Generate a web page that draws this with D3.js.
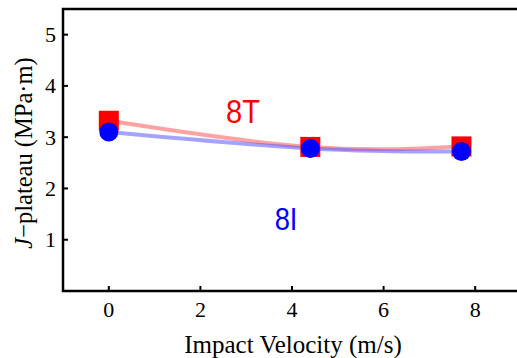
<!DOCTYPE html>
<html>
<head>
<meta charset="utf-8">
<script src="https://cdn.jsdelivr.net/npm/d3@7"></script>
<style>
  body { margin: 0; background: #fff; }
  svg { display: block; }
</style>
</head>
<body>
<script>
// data
var velocity = [0, 4.4, 7.7];
var j_8T = [3.32, 2.81, 2.82];
var j_8I = [3.10, 2.78, 2.72];
var err_8T = [0, 0.18, 0];
var err_8I = [0, 0.18, 0];
var x_ticks = [0, 2, 4, 6, 8];
var y_ticks = [1, 2, 3, 4, 5];

var width = 517, height = 358;
var pad_left = 63, pad_top = 9, pad_bottom = 291;

var svg = d3.select('body').append('svg').attr('width', width).attr('height', height);

var x_scale = d3.scaleLinear()
  .domain([-1, -1 + (width + 20 - pad_left) / 45.8])
  .range([pad_left, width + 20]);
var y_scale = d3.scaleLinear().domain([0, 5.5]).range([pad_bottom, pad_top]);

var serif = '"Liberation Serif", "Times New Roman", serif';
var sans = '"Liberation Sans", Arial, sans-serif';

// fitted curves
var line = d3.line().x(d => x_scale(d[0])).y(d => y_scale(d[1])).curve(d3.curveNatural);
var series = [
  {vals: j_8T, color: 'rgba(255,70,70,0.5)'},
  {vals: j_8I, color: 'rgba(90,90,255,0.55)'}
];
svg.selectAll('path.fit').data(series).enter().append('path')
  .attr('class', 'fit')
  .attr('d', s => line(velocity.map((v, i) => [v, s.vals[i]])))
  .attr('fill', 'none').attr('stroke', s => s.color).attr('stroke-width', 4);

// error bars
svg.selectAll('line.err8T').data(velocity).enter().append('line')
  .attr('x1', d => x_scale(d)).attr('x2', d => x_scale(d))
  .attr('y1', (d, i) => y_scale(j_8T[i] - err_8T[i])).attr('y2', (d, i) => y_scale(j_8T[i] + err_8T[i]))
  .attr('stroke', '#8040b0').attr('stroke-width', 2);

// 8T squares
var sq = 20;
svg.selectAll('rect.p8T').data(velocity).enter().append('rect')
  .attr('x', d => x_scale(d) - sq / 2).attr('y', (d, i) => y_scale(j_8T[i]) - sq / 2)
  .attr('width', sq).attr('height', sq).attr('fill', '#ff0000');

svg.selectAll('line.err8I').data(velocity).enter().append('line')
  .attr('x1', d => x_scale(d)).attr('x2', d => x_scale(d))
  .attr('y1', (d, i) => y_scale(j_8I[i] - err_8I[i])).attr('y2', (d, i) => y_scale(j_8I[i] + err_8I[i]))
  .attr('stroke', '#2020d0').attr('stroke-width', 2);

// 8I circles
svg.selectAll('circle.p8I').data(velocity).enter().append('circle')
  .attr('cx', d => x_scale(d)).attr('cy', (d, i) => y_scale(j_8I[i]))
  .attr('r', 9.5).attr('fill', '#0000ff');

// frame
svg.append('path')
  .attr('d', 'M' + (width + 5) + ',' + pad_top + 'H' + pad_left + 'V' + pad_bottom + 'H' + (width + 5))
  .attr('fill', 'none').attr('stroke', '#000').attr('stroke-width', 2.5);

// ticks
svg.selectAll('line.xt').data(x_ticks).enter().append('line')
  .attr('x1', d => x_scale(d)).attr('x2', d => x_scale(d))
  .attr('y1', pad_bottom).attr('y2', pad_bottom - 5)
  .attr('stroke', '#000').attr('stroke-width', 2);
svg.selectAll('text.xt').data(x_ticks).enter().append('text')
  .attr('x', d => x_scale(d)).attr('y', 317)
  .attr('text-anchor', 'middle').attr('font-family', serif).attr('font-size', 22)
  .text(d => d);

svg.selectAll('line.yt').data(y_ticks).enter().append('line')
  .attr('x1', pad_left).attr('x2', pad_left + 5)
  .attr('y1', d => y_scale(d)).attr('y2', d => y_scale(d))
  .attr('stroke', '#000').attr('stroke-width', 2);
svg.selectAll('text.yt').data(y_ticks).enter().append('text')
  .attr('x', 56).attr('y', d => y_scale(d) + 7.5)
  .attr('text-anchor', 'end').attr('font-family', serif).attr('font-size', 22)
  .text(d => d);

// axis titles
svg.append('text')
  .attr('x', 293).attr('y', 353)
  .attr('text-anchor', 'middle').attr('font-family', serif).attr('font-size', 25)
  .text('Impact Velocity (m/s)');

var yl = svg.append('text')
  .attr('transform', 'translate(32,153) rotate(-90)')
  .attr('text-anchor', 'middle').attr('font-family', serif).attr('font-size', 24.5);
yl.append('tspan').attr('font-style', 'italic').text('J');
yl.append('tspan').text('\u2212plateau (MPa\u00b7m)');

// series labels
svg.append('text').attr('transform', 'translate(243,123) scale(0.88,1)')
  .attr('text-anchor', 'middle').attr('font-family', sans).attr('font-size', 33)
  .attr('fill', '#ff0000').text('8T');
svg.append('text').attr('transform', 'translate(286,230) scale(0.88,1)')
  .attr('text-anchor', 'middle').attr('font-family', sans).attr('font-size', 31)
  .attr('fill', '#0000ff').text('8I');
</script>
</body>
</html>
